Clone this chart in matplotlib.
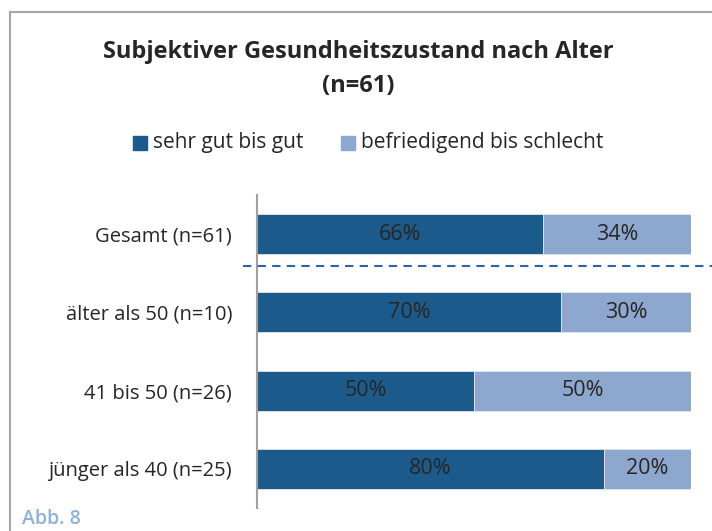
import matplotlib
matplotlib.use("Agg")
import matplotlib.pyplot as plt
from matplotlib.lines import Line2D
from matplotlib.patches import Rectangle

plt.rcParams['font.family'] = ['Open Sans', 'DejaVu Sans']

# data (bottom to top)
categories = ["jünger als 40 (n=25)", "41 bis 50 (n=26)", "älter als 50 (n=10)", "Gesamt (n=61)"]
gut = [80, 50, 70, 66]
schlecht = [20, 50, 30, 34]
series_names = ["sehr gut bis gut", "befriedigend bis schlecht"]

dark = '#1d5a8c'
light = '#8ea7cf'
text_col = '#262626'

W, H = 712, 531
fig = plt.figure(figsize=(W / 100, H / 100), dpi=100)

# frame lines (top and left) of the outer box
fig.add_artist(Line2D([10 / W, 10 / W], [0, 1 - 12 / H], color='#a6a6a6', lw=1.5))
fig.add_artist(Line2D([10 / W, 1], [1 - 12 / H, 1 - 12 / H], color='#a6a6a6', lw=1.5))

ax = fig.add_axes([257 / W, 23 / H, 434 / W, 313 / H])
y = range(len(categories))
ax.barh(y, gut, height=0.51, color=dark, edgecolor='#dfe6f0', linewidth=0.6)
ax.barh(y, schlecht, left=gut, height=0.51, color=light, edgecolor='#dfe6f0', linewidth=0.6)

for i in y:
    ax.text(gut[i] / 2, i, f"{gut[i]}%", ha='center', va='center', fontsize=15.5, color=text_col)
    ax.text(gut[i] + schlecht[i] / 2, i, f"{schlecht[i]}%", ha='center', va='center',
            fontsize=15.5, color=text_col)

ax.set_xlim(0, 100)
ax.set_ylim(-0.5, 3.5)
ax.set_yticks(list(y))
ax.set_yticklabels(categories, fontsize=14.5, color=text_col)
ax.tick_params(axis='y', length=0, pad=18)
ax.set_xticks([])
for s in ['top', 'right', 'bottom']:
    ax.spines[s].set_visible(False)
ax.spines['left'].set_color('#a0a0a0')
ax.spines['left'].set_linewidth(1.5)

# dashed separator between total and age groups
sep_y = 1 - 266 / H
fig.add_artist(Line2D([243 / W, 1], [sep_y, sep_y], color='#2e64a5', lw=1.5, ls=(0, (4, 3))))

fig.text(358 / W, 1 - 52 / H, "Subjektiver Gesundheitszustand nach Alter", ha='center', va='center',
         fontsize=17, fontweight='bold', color=text_col)
fig.text(358 / W, 1 - 86 / H, "(n=61)", ha='center', va='center',
         fontsize=17, fontweight='bold', color=text_col)

# legend
ly = 1 - 143 / H
for x0, col, tx, name in [(133, dark, 153, series_names[0]), (341, light, 361, series_names[1])]:
    fig.add_artist(Rectangle((x0 / W, ly - 7 / H), 14 / W, 14 / H, color=col, transform=fig.transFigure))
    fig.text(tx / W, ly, name, ha='left', va='center', fontsize=15, color=text_col)

fig.text(22 / W, 2 / H, "Abb. 8", ha='left', va='bottom', fontsize=14, color='#8fb0d8',
         fontweight='semibold')

fig.savefig("out.png", dpi=100)
